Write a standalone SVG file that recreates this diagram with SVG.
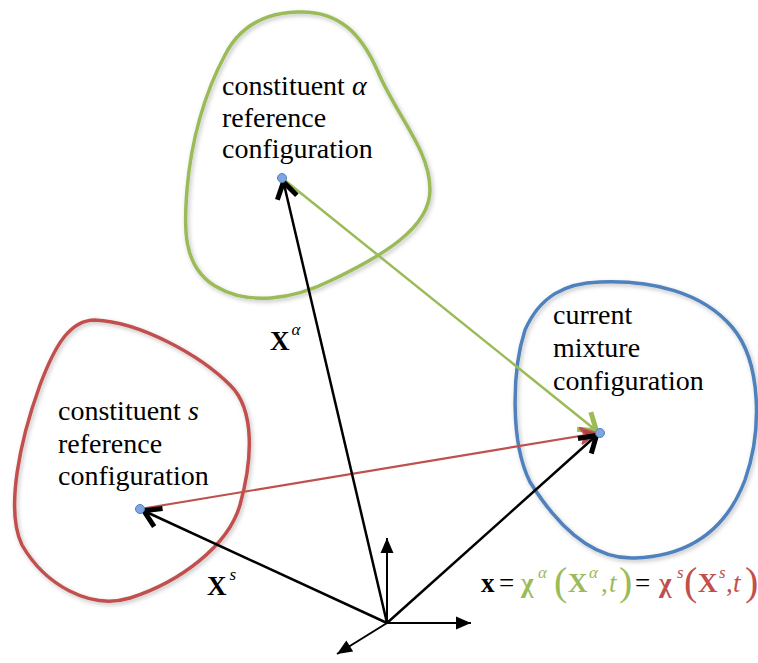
<svg xmlns="http://www.w3.org/2000/svg" width="758" height="663" viewBox="0 0 758 663">
<defs>
<filter id="sh" x="-10%" y="-10%" width="120%" height="120%">
<feDropShadow dx="1.5" dy="2" stdDeviation="2" flood-color="#000" flood-opacity="0.25"/>
</filter>
<marker id="chevK" markerUnits="userSpaceOnUse" viewBox="-24 -15 30 30" markerWidth="30" markerHeight="30" refX="0" refY="0" orient="auto">
<path d="M -18 -10 L -2 0 L -18 10" fill="none" stroke="#000" stroke-width="5"/>
</marker>
<marker id="chevG" markerUnits="userSpaceOnUse" viewBox="-24 -15 30 30" markerWidth="30" markerHeight="30" refX="0" refY="0" orient="auto">
<path d="M -18 -11 L -2 0 L -18 11" fill="none" stroke="#9BBB59" stroke-width="5"/>
</marker>
<marker id="chevR" markerUnits="userSpaceOnUse" viewBox="-24 -15 30 30" markerWidth="30" markerHeight="30" refX="0" refY="0" orient="auto">
<path d="M -17 -8 L -1 0 L -17 8 L -13 0 Z" fill="#A8423F" stroke="#C0504D" stroke-width="2" stroke-linejoin="round"/>
</marker>
<marker id="tri" markerUnits="userSpaceOnUse" viewBox="-16 -8 18 16" markerWidth="18" markerHeight="16" refX="0" refY="0" orient="auto">
<path d="M -15 -6.5 L 0 0 L -15 6.5 Z" fill="#000"/>
</marker>
</defs>
<style>
.blob{fill:none;stroke-width:3.5;}
.lbl{font-family:"Liberation Serif","Times New Roman",serif;font-size:28px;fill:#000;}
.eq{font-family:"Liberation Serif","Times New Roman",serif;font-size:27px;}
.b{font-weight:bold;}
.i{font-style:italic;}
.sup{font-size:17px;font-style:italic;}
.par{font-size:40px;font-weight:normal;}
.dot{fill:#7FA6DF;stroke:#4F81BD;stroke-width:1;}
.ax{stroke:#000;stroke-width:2;fill:none;marker-end:url(#tri);}
.vec{stroke:#000;stroke-width:2.5;fill:none;marker-end:url(#chevK);}
</style>

<g id="node-alpha">
<path class="blob" stroke="#9BBB59" filter="url(#sh)" d="M 297 12 C 340 10 362 35 378 72 C 398 118 430 150 430 190 C 430 228 382 256 332 280 C 292 300 248 306 215 286 C 182 266 184 226 187 190 C 191 140 205 92 225 55 C 240 26 265 13 297 12 Z"/>
<text class="lbl" x="222" y="95">constituent <tspan class="i">α</tspan></text>
<text class="lbl" x="222" y="127">reference</text>
<text class="lbl" x="222" y="158">configuration</text>
</g>

<g id="node-s">
<path class="blob" stroke="#C0504D" filter="url(#sh)" d="M 95 320 C 140 322 200 355 230 385 C 256 410 252 462 240 505 C 228 546 180 582 130 598 C 90 610 45 585 22 545 C 5 510 20 440 40 385 C 55 345 70 320 95 320 Z"/>
<text class="lbl" x="58" y="420">constituent <tspan class="i">s</tspan></text>
<text class="lbl" x="58" y="453">reference</text>
<text class="lbl" x="58" y="485">configuration</text>
</g>

<g id="node-mix">
<path class="blob" stroke="#4F81BD" filter="url(#sh)" d="M 600 282 C 652 280 702 292 732 327 C 762 362 762 432 745 480 C 726 530 690 556 635 558 C 590 560 555 522 530 482 C 510 442 512 370 525 330 C 540 296 565 283 600 282 Z"/>
<text class="lbl" x="553" y="324">current</text>
<text class="lbl" x="553" y="357">mixture</text>
<text class="lbl" x="553" y="390">configuration</text>
</g>

<g id="connectors">
<line x1="282" y1="178" x2="598" y2="432" stroke="#9BBB59" stroke-width="2.5" marker-end="url(#chevG)"/>
<line x1="140" y1="509" x2="598" y2="433" stroke="#C0504D" stroke-width="2.2" marker-end="url(#chevR)"/>
<line class="vec" x1="387" y1="623" x2="283" y2="180"/>
<line class="vec" x1="387" y1="623" x2="142" y2="510"/>
<line class="vec" x1="387" y1="623" x2="598" y2="434"/>
<line class="ax" x1="387" y1="623" x2="387" y2="538"/>
<line class="ax" x1="387" y1="623" x2="471" y2="623"/>
<line class="ax" x1="387" y1="623" x2="337" y2="654"/>
</g>

<g id="points">
<circle class="dot" cx="282" cy="178" r="4.5"/>
<circle class="dot" cx="140" cy="509" r="4.5"/>
<circle class="dot" cx="600" cy="433" r="4.5"/>
</g>

<g id="labels">
<text class="eq b" x="270" y="350">X<tspan class="sup" font-weight="normal" dx="2" dy="-15">α</tspan></text>
<text class="eq b" x="207" y="595">X<tspan class="sup" font-weight="normal" dx="3" dy="-15">s</tspan></text>
</g>

<g id="equation">
<text class="eq b" x="481" y="592" fill="#000">x</text>
<text class="eq" x="499" y="592" fill="#000">=</text>
<text class="eq b" x="521" y="592" fill="#9BBB59">χ</text>
<text class="eq sup" x="538" y="578" fill="#9BBB59">α</text>
<text class="eq par" x="554" y="595" fill="#9BBB59">(</text>
<text class="eq b" x="568" y="592" fill="#9BBB59">X</text>
<text class="eq sup" x="589" y="578" fill="#9BBB59">α</text>
<text class="eq" x="601" y="592" fill="#9BBB59">,</text>
<text class="eq i" x="609" y="592" fill="#9BBB59">t</text>
<text class="eq par" x="619" y="595" fill="#9BBB59">)</text>
<text class="eq" x="635" y="592" fill="#000">=</text>
<text class="eq b" x="659" y="592" fill="#C0504D">χ</text>
<text class="eq sup" x="677" y="578" fill="#C0504D">s</text>
<text class="eq par" x="684" y="595" fill="#C0504D">(</text>
<text class="eq b" x="698" y="592" fill="#C0504D">X</text>
<text class="eq sup" x="719" y="578" fill="#C0504D">s</text>
<text class="eq" x="726" y="592" fill="#C0504D">,</text>
<text class="eq i" x="733" y="592" fill="#C0504D">t</text>
<text class="eq par" x="745" y="595" fill="#C0504D">)</text>
</g>
</svg>
